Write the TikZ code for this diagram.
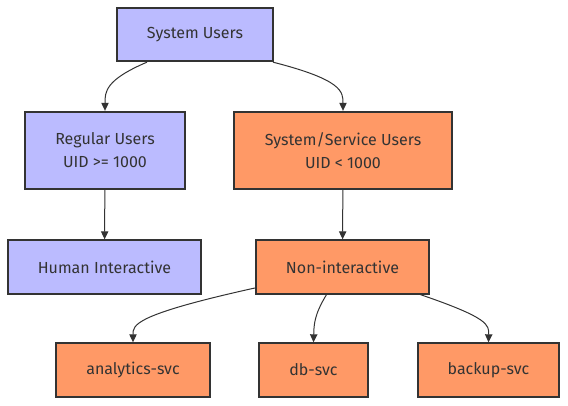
\documentclass[tikz,border=0pt]{standalone}
\usepackage{fontspec}
\setmainfont{Fira Sans}
\usepackage{tikz}
\usetikzlibrary{calc,arrows.meta}
\definecolor{userblue}{HTML}{BBBBFF}
\definecolor{svcorange}{HTML}{FF9966}
\definecolor{edgegray}{HTML}{333333}

\begin{document}
\begin{tikzpicture}[
  x=0.75pt, y=-0.75pt,
  box/.style={draw=edgegray, line width=1.5pt, inner sep=0pt, align=center, text=edgegray,
    font=\fontsize{12}{17.25}\selectfont},
  human/.style={box, fill=userblue},
  service/.style={box, fill=svcorange},
  arrow/.style={-{Triangle[length=6pt, width=5.5pt]}, draw=edgegray, line width=0.75pt}
]
\useasboundingbox (0,0) rectangle (568,406);

\node[human, minimum width=117pt, minimum height=40pt] (sysusers) at (195,34.5) {System Users};
\node[human, minimum width=120pt, minimum height=58pt] (regular) at (105,150.5) {Regular Users\\UID >= 1000};
\node[service, minimum width=163pt, minimum height=58pt] (sysservice) at (343,150.5) {System/Service Users\\UID < 1000};
\node[human, minimum width=145pt, minimum height=40pt] (interactive) at (104.5,267) {Human Interactive};
\node[service, minimum width=130pt, minimum height=40pt] (noninter) at (342.5,267) {Non-interactive};
\node[service, minimum width=115pt, minimum height=40pt] (analytics) at (133,370) {analytics-svc};
\node[service, minimum width=82pt, minimum height=40pt] (dbsvc) at (313.5,370) {db-svc};
\node[service, minimum width=106pt, minimum height=40pt] (backup) at (488.5,370) {backup-svc};

\draw[arrow] ($(sysusers.south)+(-48,0)$) .. controls (105,80) and (105,92) .. (regular.north);
\draw[arrow] ($(sysusers.south)+(78,0)$) .. controls (343,80) and (343,92) .. (sysservice.north);
\draw[arrow] (regular) -- (interactive);
\draw[arrow] (sysservice) -- (noninter);
\draw[arrow] ($(noninter.west)+(0,21)$) .. controls (133,315) and (133,325) .. (analytics.north);
\draw[arrow] ($(noninter.south)+(-16,0)$) .. controls (314,315) and (314,325) .. (dbsvc.north);
\draw[arrow] ($(noninter.south)+(78,0)$) .. controls (489,318) and (489,325) .. (backup.north);
\end{tikzpicture}
\end{document}
